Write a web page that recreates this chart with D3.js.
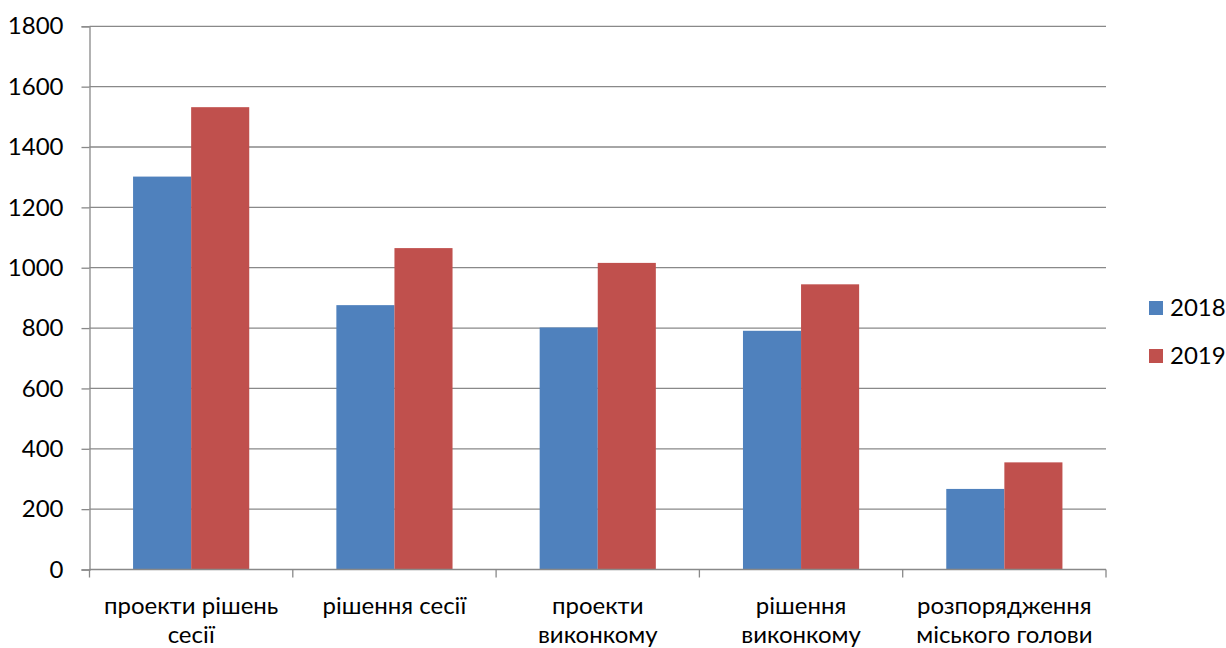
<!DOCTYPE html>
<html>
<head>
<meta charset="utf-8">
<script src="https://cdn.jsdelivr.net/npm/d3@7"></script>
<style>
  html, body { margin: 0; padding: 0; background: #fff; }
  svg { display: block; }
  text { font-family: "Lato", "Open Sans", sans-serif; fill: #000; }
</style>
</head>
<body>
<svg id="chart" width="1226" height="648"></svg>
<script>
const categories = [
  ["проекти рішень", "сесії"],
  ["рішення сесії"],
  ["проекти", "виконкому"],
  ["рішення", "виконкому"],
  ["розпорядження", "міського голови"]
];
const seriesNames = ["2018", "2019"];
const values2018 = [1302, 876, 802, 791, 267];
const values2019 = [1532, 1065, 1016, 945, 355];
const yTicks = [0, 200, 400, 600, 800, 1000, 1200, 1400, 1600, 1800];
const colors = ["#4F81BD", "#C0504D"];

(function () {
const svg = d3.select("#chart");
const mLeft = 89.5, mRight = 1106, mTop = 26.3, mBottom = 569.5;
const fontSize = 24;
const fontFam = "Lato, 'Open Sans', sans-serif";

const x = d3.scaleBand()
  .domain(d3.range(categories.length))
  .range([mLeft, mRight])
  .paddingInner(0).paddingOuter(0);

const y = d3.scaleLinear().domain([0, 1800]).range([mBottom, mTop]);

const xInner = d3.scaleBand()
  .domain(d3.range(seriesNames.length))
  .range([0, x.bandwidth()])
  .paddingInner(0)
  .paddingOuter(0.75);

svg.append("g")
  .selectAll("line")
  .data(yTicks.filter(d => d > 0))
  .join("line")
  .attr("x1", mLeft).attr("x2", mRight)
  .attr("y1", d => y(d)).attr("y2", d => y(d))
  .attr("stroke", "#898989").attr("stroke-width", 1.3);

const data = [values2018, values2019];
const g = svg.append("g");
data.forEach((vals, si) => {
  g.selectAll(null)
    .data(vals)
    .join("rect")
    .attr("x", (d, i) => x(i) + xInner(si))
    .attr("width", xInner.bandwidth())
    .attr("y", d => y(d))
    .attr("height", d => y(0) - y(d))
    .attr("fill", colors[si]);
});

const yAxis = d3.axisLeft(y).tickValues(yTicks).tickSize(8).tickPadding(18).tickFormat(d3.format("d"));
const ya = svg.append("g").attr("transform", `translate(${mLeft},0)`).call(yAxis);
ya.select(".domain").attr("stroke", "#898989").attr("stroke-width", 1.3);
ya.selectAll(".tick line").attr("stroke", "#898989").attr("stroke-width", 1.3);
ya.selectAll(".tick text").attr("font-size", fontSize).attr("font-family", fontFam).attr("fill", "#000");

const xa = svg.append("g").attr("transform", `translate(0,${mBottom})`);
xa.append("line").attr("x1", mLeft).attr("x2", mRight).attr("y1", 0).attr("y2", 0)
  .attr("stroke", "#898989").attr("stroke-width", 1.3);
const boundaries = d3.range(categories.length + 1).map(i => mLeft + i * x.step());
xa.selectAll(".xt").data(boundaries).join("line")
  .attr("x1", d => d).attr("x2", d => d).attr("y1", 0).attr("y2", 8)
  .attr("stroke", "#898989").attr("stroke-width", 1.3);

const labels = xa.selectAll(".xl").data(categories).join("text")
  .attr("text-anchor", "middle")
  .attr("font-family", fontFam)
  .attr("font-size", fontSize);
labels.each(function(lines, i) {
  const t = d3.select(this);
  lines.forEach((ln, j) => {
    t.append("tspan")
      .attr("x", x(i) + x.bandwidth() / 2)
      .attr("y", 44 + j * 29)
      .text(ln);
  });
});

const legend = svg.append("g");
seriesNames.forEach((s, i) => {
  const ly = 308 + i * 48;
  legend.append("rect").attr("x", 1149).attr("y", ly - 7).attr("width", 14).attr("height", 14).attr("fill", colors[i]);
  legend.append("text").attr("x", 1170).attr("y", ly).attr("dy", "0.35em")
    .attr("font-family", fontFam).attr("font-size", fontSize).text(s);
});
})();
</script>
</body>
</html>
